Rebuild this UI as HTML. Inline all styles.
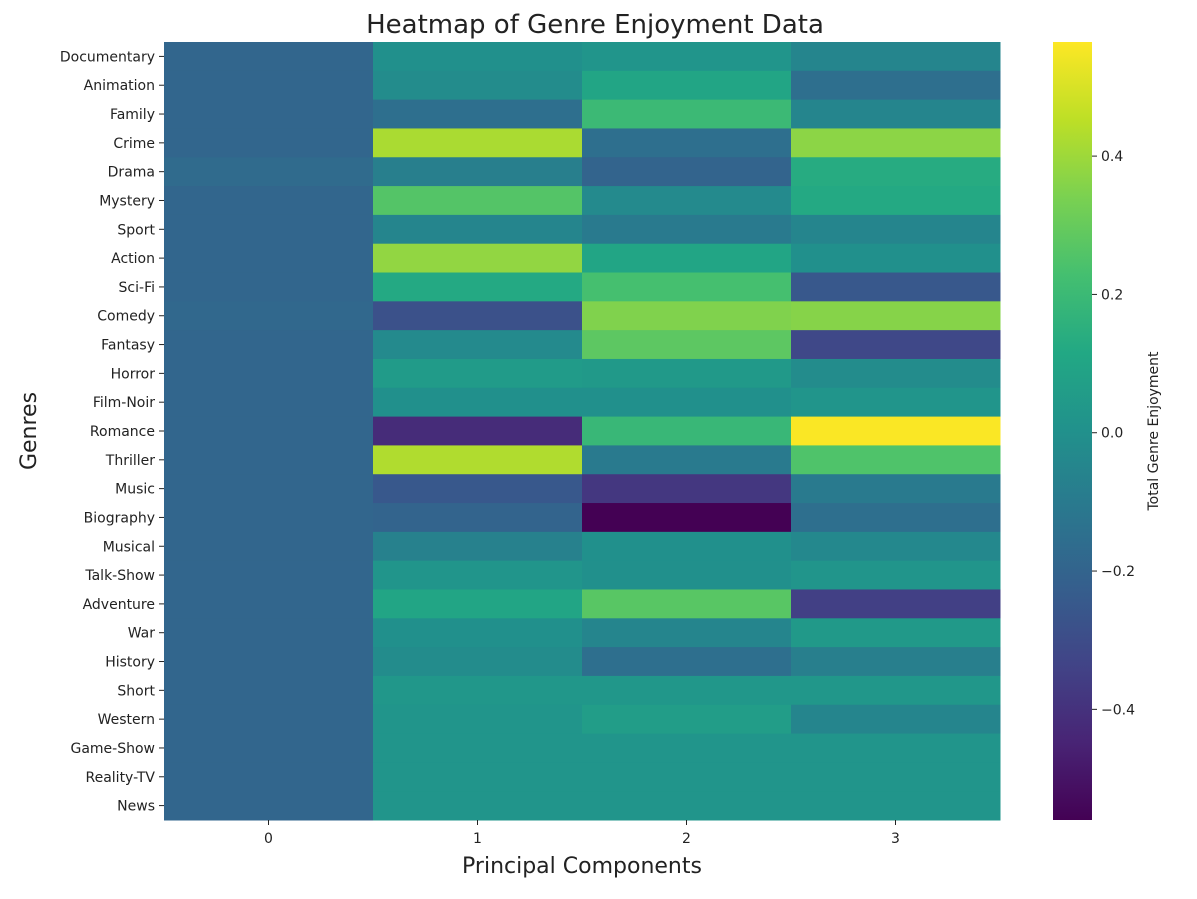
<!DOCTYPE html>
<html><head><meta charset="utf-8"><style>
html,body{margin:0;padding:0;background:#fff;}
svg text{font-family:"DejaVu Sans","Liberation Sans",sans-serif;fill:#222;}
</style></head><body>
<svg id="chart" width="1197" height="894" xmlns="http://www.w3.org/2000/svg">
<defs><linearGradient id="cbg" x1="0" y1="1" x2="0" y2="0"></linearGradient></defs>
<text x="595" y="33" font-size="26" text-anchor="middle">Heatmap of Genre Enjoyment Data</text>
<text x="582" y="873" font-size="22" text-anchor="middle">Principal Components</text>
<text transform="translate(36,431) rotate(-90)" font-size="22" text-anchor="middle">Genres</text>
<text transform="translate(1158,431) rotate(-90)" font-size="14" text-anchor="middle">Total Genre Enjoyment</text>
<g id="cells"></g><g id="axes"></g>
</svg>
<script>
const genres=["Documentary","Animation","Family","Crime","Drama","Mystery","Sport","Action","Sci-Fi","Comedy","Fantasy","Horror","Film-Noir","Romance","Thriller","Music","Biography","Musical","Talk-Show","Adventure","War","History","Short","Western","Game-Show","Reality-TV","News"];
const components=["0","1","2","3"];
const pc0=[-0.19,-0.19,-0.19,-0.19,-0.17,-0.19,-0.19,-0.19,-0.19,-0.18,-0.19,-0.19,-0.19,-0.19,-0.19,-0.19,-0.19,-0.19,-0.19,-0.19,-0.19,-0.19,-0.19,-0.19,-0.19,-0.19,-0.19];
const pc1=[0.0,-0.02,-0.15,0.42,-0.08,0.26,-0.05,0.38,0.12,-0.28,-0.03,0.05,0.0,-0.42,0.43,-0.25,-0.2,-0.07,0.02,0.1,0.0,-0.02,0.03,0.02,0.02,0.02,0.02];
const pc2=[0.02,0.1,0.2,-0.15,-0.2,-0.03,-0.1,0.1,0.23,0.35,0.28,0.04,0.0,0.19,-0.1,-0.38,-0.56,0.0,0.0,0.27,-0.05,-0.15,0.03,0.06,0.02,0.02,0.02];
const pc3=[-0.05,-0.15,-0.05,0.37,0.13,0.12,-0.05,0.0,-0.25,0.36,-0.32,-0.02,0.02,0.56,0.25,-0.1,-0.15,-0.04,0.02,-0.35,0.04,-0.08,0.03,-0.05,0.02,0.02,0.02];
const cbTicks=[-0.4,-0.2,0.0,0.2,0.4];
const series=[pc0,pc1,pc2,pc3];
const vmin=-0.56,vmax=0.565;
const X0=164,X1=1000,Y0=42,Y1=820,CBX=1053,CBW=39;
const vir=["#440154","#482475","#414487","#355f8d","#2a788e","#21918c","#22a884","#44bf70","#7ad151","#bddf26","#fde725"];
function hex(h){return [1,3,5].map(i=>parseInt(h.substr(i,2),16));}
function color(v){let t=(v-vmin)/(vmax-vmin);t=Math.max(0,Math.min(1,t));const p=t*10,i=Math.min(9,Math.floor(p)),f=p-i;const a=hex(vir[i]),b=hex(vir[i+1]);return "rgb("+a.map((c,k)=>Math.round(c+(b[k]-c)*f)).join(",")+")";}
const xs=i=>X0+i*(X1-X0)/components.length;
const ys=i=>Y0+i*(Y1-Y0)/genres.length;
const cy=v=>Y1-(v-vmin)/(vmax-vmin)*(Y1-Y0);
const NS="http://www.w3.org/2000/svg";
const cells=document.getElementById("cells"),axes=document.getElementById("axes");
function mk(tag,attrs,parent){const e=document.createElementNS(NS,tag);for(const k in attrs)e.setAttribute(k,attrs[k]);parent.appendChild(e);return e;}
series.forEach((s,c)=>s.forEach((v,r)=>{
  const e=mk("rect",{x:xs(c),y:ys(r),width:xs(c+1)-xs(c)+0.5,height:ys(r+1)-ys(r)+0.5,fill:color(v)},cells);
  
  
}));
genres.forEach((g,r)=>{
  const y=(ys(r)+ys(r+1))/2;
  mk("line",{x1:X0-5,x2:X0,y1:y,y2:y,stroke:"#222"},axes);
  const t=mk("text",{x:X0-9,y:y+5,"font-size":14,"text-anchor":"end"},axes);t.textContent=g;
  
  
});
components.forEach((c,i)=>{
  const x=(xs(i)+xs(i+1))/2;
  mk("line",{x1:x,x2:x,y1:Y1,y2:Y1+5,stroke:"#222"},axes);
  const t=mk("text",{x:x,y:Y1+23,"font-size":14,"text-anchor":"middle"},axes);t.textContent=c;
  
  
});
const g=document.querySelector("#cbg");
vir.forEach((c,i)=>mk("stop",{offset:(i*10)+"%","stop-color":c},g));
const cb=mk("rect",{x:CBX,y:Y0,width:CBW,height:Y1-Y0,fill:"url(#cbg)"},axes);


cbTicks.forEach(v=>{
  const y=cy(v);
  mk("line",{x1:CBX+CBW,x2:CBX+CBW+5,y1:y,y2:y,stroke:"#222"},axes);
  const t=mk("text",{x:CBX+CBW+9,y:y+5,"font-size":14},axes);t.textContent=(v<0?"\u2212":"")+Math.abs(v).toFixed(1);
  
  
});
</script>
</body></html>
